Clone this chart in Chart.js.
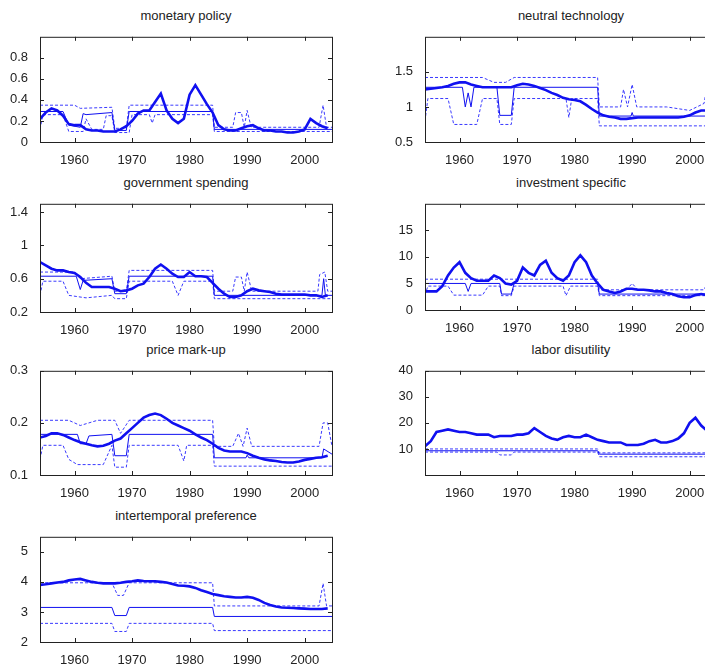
<!DOCTYPE html>
<html>
<head>
<meta charset="utf-8">
<script src="https://cdn.jsdelivr.net/npm/chart.js@4/dist/chart.umd.min.js"></script>
<style>
  body { margin: 0; background: #fff; width: 705px; height: 667px; overflow: hidden; position: relative; }
  canvas { position: absolute; }
  .ttl { position: absolute; font: 13px "Liberation Sans", Arial, sans-serif; color: #222; text-align: center; }
</style>
</head>
<body>
<script>
// ── Data ────────────────────────────────────────────────────
const years = [];
for (let y = 1954; y <= 2004; y++) years.push(y);
const xTicks = [1960, 1970, 1980, 1990, 2000];

// thick line: smoothed estimate (annual)
const monetaryMain = [0.22,0.28,0.32,0.30,0.25,0.17,0.16,0.16,0.12,0.11,0.11,0.10,0.10,0.10,0.12,0.15,0.20,0.27,0.30,0.30,0.38,0.46,0.30,0.22,0.18,0.22,0.45,0.54,0.45,0.36,0.28,0.16,0.12,0.11,0.11,0.13,0.15,0.16,0.13,0.11,0.11,0.10,0.10,0.09,0.09,0.10,0.12,0.22,0.18,0.15,0.13];
const neutralMain = [1.25,1.26,1.27,1.28,1.30,1.33,1.35,1.35,1.32,1.30,1.28,1.28,1.28,1.28,1.28,1.28,1.31,1.33,1.32,1.30,1.27,1.24,1.20,1.17,1.13,1.11,1.10,1.08,1.03,0.97,0.92,0.88,0.86,0.85,0.83,0.83,0.84,0.85,0.85,0.85,0.85,0.85,0.85,0.85,0.85,0.86,0.88,0.92,0.95,0.95,0.93];
const govMain = [0.80,0.76,0.72,0.70,0.70,0.68,0.67,0.62,0.55,0.50,0.50,0.50,0.50,0.48,0.45,0.46,0.48,0.52,0.54,0.62,0.72,0.77,0.72,0.66,0.62,0.62,0.68,0.63,0.63,0.62,0.55,0.48,0.42,0.38,0.38,0.40,0.45,0.48,0.46,0.45,0.44,0.42,0.41,0.41,0.41,0.41,0.41,0.40,0.40,0.38,0.40];
const investMain = [3.5,3.5,3.5,4.5,6.5,8,9,7,6,5.5,5.5,5.5,6.5,6,5,4.8,5.5,8,7,6.5,8.5,9.3,7,6,5.5,6.5,9,10.3,9,6.5,5,3.8,3.5,3.2,3.5,4,4,3.8,3.8,3.7,3.5,3.5,3.2,3,2.6,2.4,2.4,2.8,3.0,2.8,2.8];
const priceMain = [0.172,0.175,0.18,0.18,0.177,0.172,0.167,0.163,0.16,0.157,0.155,0.156,0.16,0.166,0.17,0.18,0.19,0.20,0.21,0.215,0.218,0.215,0.208,0.20,0.195,0.19,0.185,0.178,0.172,0.167,0.16,0.152,0.147,0.145,0.145,0.145,0.142,0.137,0.133,0.130,0.128,0.127,0.125,0.124,0.124,0.126,0.129,0.131,0.133,0.134,0.137];
const laborMain = [11,13,16.5,17,17.5,17,16.5,16.5,16,15.5,15.5,15.5,14.5,15,15,15,15.5,15.5,16,18,16.5,15,14,13.5,14.5,15,14.5,14.5,15.5,14.5,13.5,13,12.5,12.5,12.5,11.5,11.5,11.5,12,13,13.5,12.5,12.5,13,14,16,20,22,19,17,16];
const interMain = [3.9,3.92,3.95,3.98,4.0,4.05,4.08,4.1,4.05,4.0,3.97,3.95,3.95,3.95,3.97,4.0,4.02,4.05,4.03,4.02,4.02,4.0,3.98,3.93,3.88,3.87,3.85,3.8,3.72,3.66,3.6,3.56,3.52,3.5,3.48,3.48,3.5,3.47,3.4,3.3,3.23,3.18,3.15,3.14,3.13,3.12,3.11,3.10,3.10,3.10,3.12];

// regime values: [year, value] break points (thin solid, dashed upper, dashed lower)
const monetaryMid = [[1954,0.29],[1958,0.29],[1959,0.16],[1961,0.14],[1961.5,0.27],[1962,0.26],[1966.5,0.28],[1967,0.11],[1969,0.11],[1969.5,0.29],[1984,0.29],[1984.3,0.12],[2004.75,0.12]];
const monetaryUp = [[1954,0.35],[1960,0.35],[1961,0.32],[1966.5,0.33],[1967,0.13],[1969,0.13],[1969.5,0.35],[1984,0.35],[1984.3,0.14],[1987.5,0.14],[1988,0.28],[1989,0.28],[1989.5,0.14],[1990,0.30],[1990.7,0.14],[2002.5,0.14],[2003.2,0.35],[2003.8,0.14],[2004.75,0.14]];
const monetaryLo = [[1954,0.12],[1954.5,0.26],[1958,0.26],[1959,0.1],[1961.5,0.1],[1962,0.22],[1963,0.12],[1965,0.12],[1965.5,0.25],[1966.5,0.25],[1967,0.09],[1969.5,0.09],[1970,0.26],[1973,0.26],[1973.5,0.18],[1974,0.26],[1984,0.26],[1984.3,0.10],[2004.75,0.10]];

const neutralMid = [[1954,1.28],[1960.5,1.28],[1961,1.0],[1961.5,1.2],[1962,1.0],[1962.5,1.28],[1966.5,1.28],[1967,0.88],[1969,0.88],[1969.5,1.28],[1984,1.28],[1984.3,0.87],[1989.8,0.87],[1990,0.92],[1990.2,0.87],[2003,0.87],[2003.3,1.25],[2004.75,1.25]];
const neutralUp = [[1954,1.42],[1964,1.42],[1966,1.35],[1968,1.35],[1969.5,1.42],[1984,1.42],[1984.3,1.0],[1988,1.0],[1988.5,1.25],[1989.2,1.0],[1990,1.32],[1990.8,1.0],[1996,1.0],[2000,0.95],[2002.5,1.05],[2003.2,1.38],[2004.75,1.38]];
const neutralLo = [[1954,0.8],[1954.5,1.12],[1958,1.12],[1959,0.75],[1963,0.75],[1964,1.12],[1966.5,1.12],[1967,0.75],[1969,0.75],[1969.5,1.12],[1978.5,1.12],[1979,0.85],[1979.5,1.12],[1984,1.12],[1984.3,0.73],[2004.75,0.73]];

const govMid = [[1954,0.63],[1960.3,0.63],[1961,0.47],[1961.5,0.58],[1966.5,0.60],[1967,0.42],[1969,0.42],[1969.5,0.63],[1984,0.63],[1984.3,0.40],[2003,0.40],[2003.3,0.6],[2003.6,0.40],[2004.75,0.40]];
const govUp = [[1954,0.68],[1960,0.68],[1961,0.60],[1966.5,0.63],[1967,0.45],[1969,0.45],[1969.5,0.70],[1984,0.70],[1984.3,0.45],[1987.5,0.45],[1988,0.62],[1989,0.62],[1989.5,0.45],[1990,0.68],[1990.8,0.45],[2002.3,0.45],[2002.6,0.65],[2003.5,0.68],[2004,0.45],[2004.75,0.45]];
const govLo = [[1954,0.40],[1954.5,0.57],[1958,0.57],[1959,0.40],[1962,0.37],[1966.5,0.40],[1967,0.36],[1969,0.36],[1969.5,0.57],[1977,0.57],[1978,0.40],[1979,0.57],[1984,0.57],[1984.3,0.36],[2004.75,0.36]];

const investMid = [[1954,5],[1961,5],[1961.5,3.5],[1962,5],[1967,5],[1967.3,3],[1969,3],[1969.5,5],[1984,5],[1984.3,3],[2004.75,3]];
const investUp = [[1954,5.8],[1984,5.8],[1984.3,3.8],[1989,3.8],[1990,5],[1991,3.8],[2002.5,3.8],[2003,5],[2004.75,5]];
const investLo = [[1954,2.8],[1954.5,4.5],[1958,4.5],[1959,2.8],[1964,2.8],[1965,4.5],[1967,4.5],[1967.3,2.7],[1969,2.7],[1969.5,4.5],[1978,4.5],[1978.5,2.7],[1979.3,4.5],[1984,4.5],[1984.3,2.7],[2004.75,2.7]];

const priceMid = [[1954,0.178],[1960.5,0.178],[1961,0.16],[1962,0.16],[1962.5,0.175],[1966.5,0.178],[1967,0.137],[1969,0.137],[1969.5,0.178],[1984,0.178],[1984.3,0.133],[1989.8,0.133],[1990,0.138],[1990.3,0.133],[2003,0.133],[2003.3,0.15],[2004.75,0.14]];
const priceUp = [[1954,0.205],[1959,0.205],[1961,0.195],[1964,0.205],[1967,0.205],[1968,0.18],[1969.5,0.205],[1984,0.205],[1984.3,0.155],[1987.5,0.155],[1988.5,0.18],[1989.3,0.155],[1990,0.19],[1990.8,0.155],[2002.5,0.155],[2003.2,0.20],[2004,0.20],[2004.75,0.155]];
const priceLo = [[1954,0.13],[1954.5,0.157],[1958,0.157],[1959,0.13],[1960.5,0.12],[1965,0.12],[1966.5,0.157],[1967,0.115],[1969,0.115],[1969.5,0.157],[1978,0.157],[1979,0.127],[1979.5,0.157],[1984,0.157],[1984.3,0.117],[2004.75,0.117]];

const laborMid = [[1954,9.3],[1984,9.3],[1984.3,8.0],[2004.75,8.0]];
const laborUp = [[1954,10],[1984,10],[1984.3,8.5],[2004.75,8.5]];
const laborLo = [[1954,8.8],[1966.5,8.8],[1967,7.7],[1969,7.7],[1969.5,8.8],[1984,8.8],[1984.3,7.0],[2004.75,7.0]];

const interMid = [[1954,3.15],[1966.5,3.15],[1967,2.88],[1969,2.88],[1969.5,3.15],[1984,3.15],[1984.3,2.85],[2004.75,2.85]];
const interUp = [[1954,3.97],[1966.5,3.97],[1967.5,3.55],[1968.5,3.55],[1969.5,3.97],[1984,3.97],[1984.3,3.2],[2002.5,3.2],[2003.2,3.95],[2003.8,3.2],[2004.75,3.2]];
const interLo = [[1954,2.62],[1966.5,2.62],[1967,2.35],[1969,2.35],[1969.5,2.62],[1984,2.62],[1984.3,2.38],[2004.75,2.38]];

// ── Panels ──────────────────────────────────────────────────
const panels = [
  { title: 'monetary policy',        side: 0, top: 33,  bottom: 142, min: 0,   max: 1,    ticks: [0,0.2,0.4,0.6,0.8],           main: monetaryMain, mid: monetaryMid, up: monetaryUp, lo: monetaryLo },
  { title: 'neutral technology',     side: 1, top: 33,  bottom: 142, min: 0.5, max: 2,    ticks: [0.5,1,1.5],                   main: neutralMain,  mid: neutralMid,  up: neutralUp,  lo: neutralLo },
  { title: 'government spending',    side: 0, top: 200, bottom: 312, min: 0.2, max: 1.5,  ticks: [0.2,0.4,0.6,0.8,1,1.2,1.4],  main: govMain,      mid: govMid,      up: govUp,      lo: govLo },
  { title: 'investment specific',    side: 1, top: 200, bottom: 310, min: 0,   max: 20,   ticks: [0,5,10,15],                   main: investMain,   mid: investMid,   up: investUp,   lo: investLo },
  { title: 'price mark-up',          side: 0, top: 367, bottom: 475, min: 0.1, max: 0.3,  ticks: [0.1,0.2,0.3],                 main: priceMain,    mid: priceMid,    up: priceUp,    lo: priceLo },
  { title: 'labor disutility',       side: 1, top: 367, bottom: 475, min: 0,   max: 40,   ticks: [10,20,30,40],                 main: laborMain,    mid: laborMid,    up: laborUp,    lo: laborLo },
  { title: 'intertemporal preference', side: 0, top: 533, bottom: 642, min: 2, max: 5.5,  ticks: [2,3,4,5],                     main: interMain,    mid: interMid,    up: interUp,    lo: interLo }
];

const FONT = { family: '"Liberation Sans", Arial, sans-serif', size: 13 };
const BLUE = '#1010f0';

// box + inward tick marks, MATLAB style
const boxPlugin = {
  id: 'box',
  afterDraw(chart) {
    const { ctx, chartArea: a, scales } = chart;
    ctx.save();
    ctx.strokeStyle = '#222';
    ctx.lineWidth = 1;
    ctx.strokeRect(a.left + 0.5, a.top + 0.5, a.right - a.left, a.bottom - a.top);
    ctx.beginPath();
    scales.x.ticks.forEach(t => {
      const px = Math.round(scales.x.getPixelForValue(t.value)) + 0.5;
      ctx.moveTo(px, a.bottom); ctx.lineTo(px, a.bottom - 4);
      ctx.moveTo(px, a.top); ctx.lineTo(px, a.top + 4);
    });
    scales.y.ticks.forEach(t => {
      const py = Math.round(scales.y.getPixelForValue(t.value)) + 0.5;
      ctx.moveTo(a.left, py); ctx.lineTo(a.left + 4, py);
      ctx.moveTo(a.right, py); ctx.lineTo(a.right - 4, py);
    });
    ctx.stroke();
    ctx.restore();
  }
};

const toXY = pairs => pairs.map(p => ({ x: p[0], y: p[1] }));

panels.forEach(p => {
  const left = p.side === 0 ? 0 : 360;
  const yAxisW = p.side === 0 ? 40 : 65;
  const width = p.side === 0 ? 345 : 360;
  const padRight = p.side === 0 ? 13 : 3;
  const canvasTop = p.top - 8;
  const height = p.bottom + 24 - canvasTop;

  const t = document.createElement('div');
  t.className = 'ttl';
  t.textContent = p.title;
  t.style.left = (left + yAxisW) + 'px';
  t.style.width = '292px';
  t.style.top = (p.top - 25) + 'px';
  document.body.appendChild(t);

  const c = document.createElement('canvas');
  c.style.left = left + 'px';
  c.style.top = canvasTop + 'px';
  c.style.width = width + 'px';
  c.style.height = height + 'px';
  c.width = width; c.height = height;
  document.body.appendChild(c);

  const dashed = data => ({
    data: toXY(data), borderColor: '#3a3aff', borderWidth: 1, borderDash: [3, 2],
    pointRadius: 0, tension: 0, fill: false
  });

  new Chart(c, {
    type: 'line',
    data: {
      datasets: [
        { data: years.map((y, i) => ({ x: y, y: p.main[i] })), borderColor: BLUE, borderWidth: 2.6, pointRadius: 0, tension: 0 },
        { data: toXY(p.mid), borderColor: BLUE, borderWidth: 1, pointRadius: 0, tension: 0 },
        dashed(p.up),
        dashed(p.lo)
      ]
    },
    options: {
      responsive: false,
      animation: false,
      devicePixelRatio: 1,
      layout: { padding: { top: 8, right: padRight, left: 0, bottom: 0 } },
      plugins: { legend: { display: false }, tooltip: { enabled: false } },
      scales: {
        x: {
          type: 'linear', min: 1954, max: 2004.75,
          grid: { display: false }, border: { display: false },
          afterBuildTicks: s => { s.ticks = xTicks.map(v => ({ value: v })); },
          afterFit: s => { s.height = 24; },
          ticks: { color: '#222', font: FONT, padding: 3, maxRotation: 0, callback: v => String(v) }
        },
        y: {
          min: p.min, max: p.max,
          grid: { display: false }, border: { display: false },
          afterBuildTicks: s => { s.ticks = p.ticks.map(v => ({ value: v })); },
          afterFit: s => { s.width = yAxisW; },
          ticks: { color: '#222', font: FONT, padding: 4, callback: v => String(v) }
        }
      }
    },
    plugins: [boxPlugin]
  });
});
</script>
</body>
</html>
